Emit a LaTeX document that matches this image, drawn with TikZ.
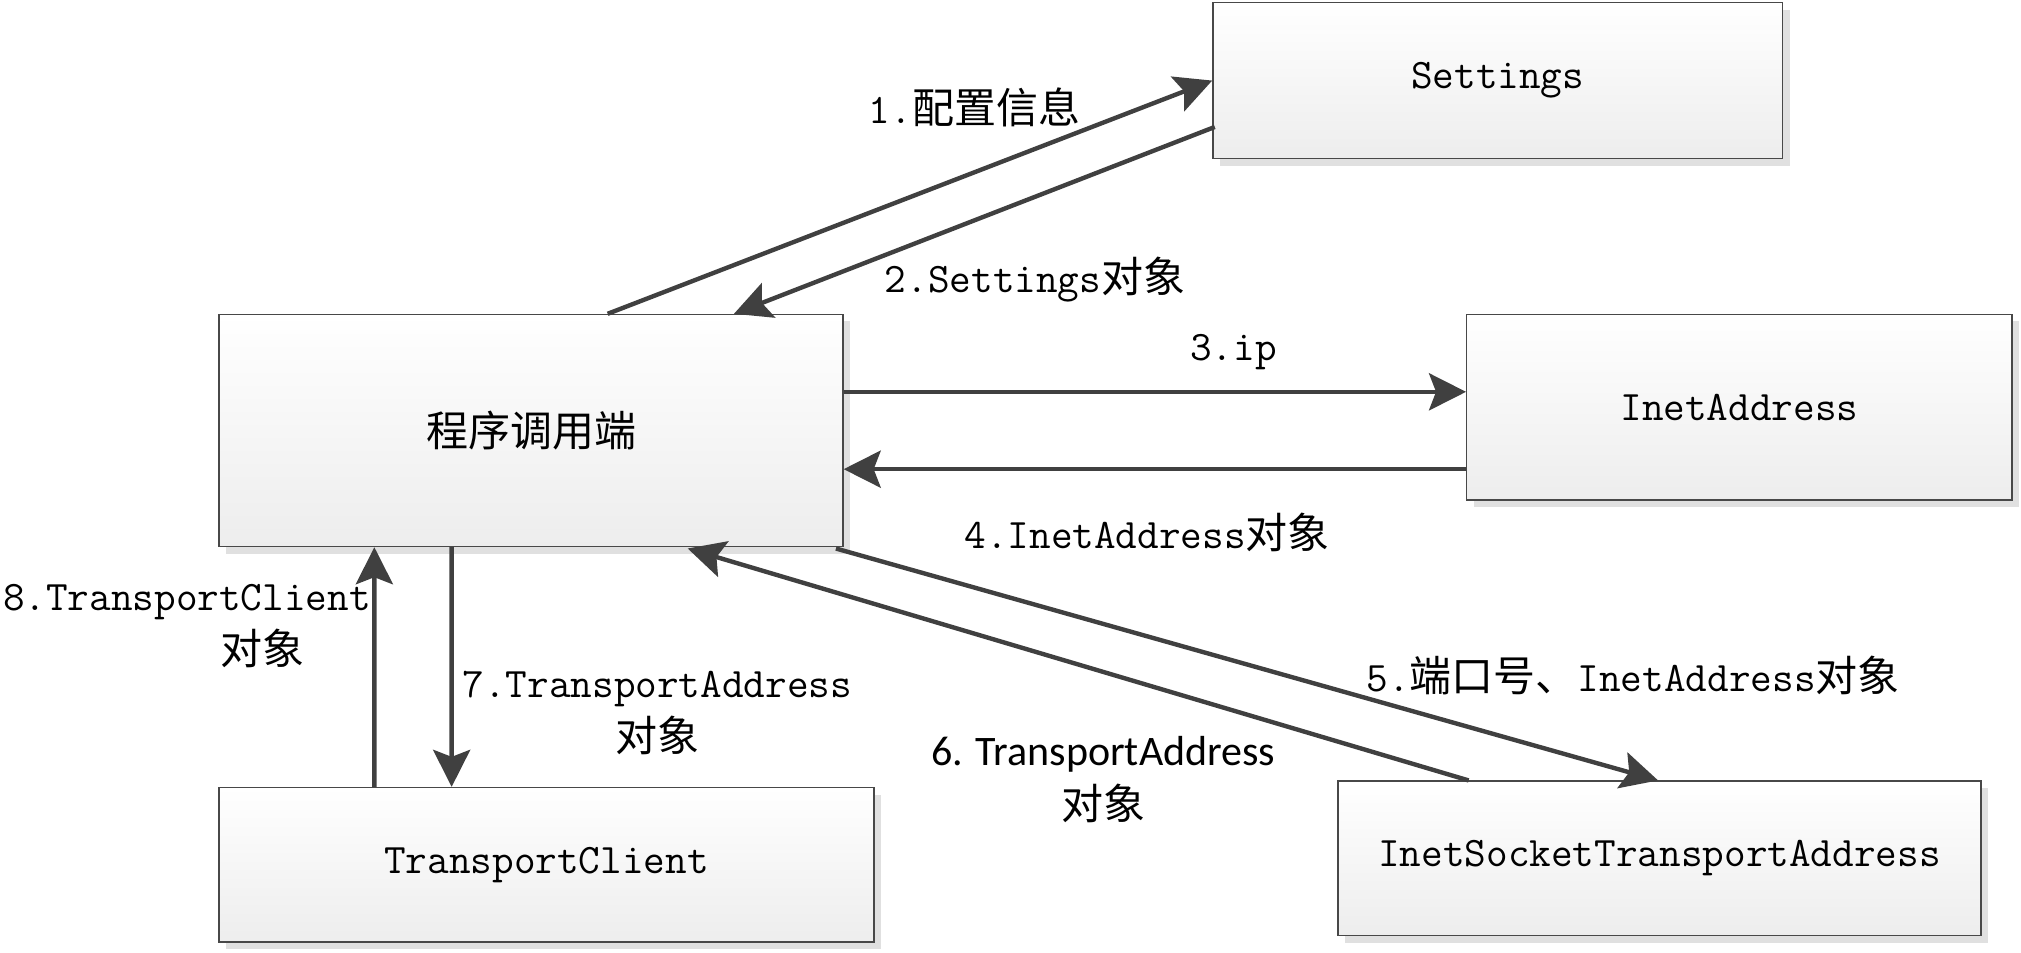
\documentclass[tikz,border=0pt]{standalone}
\usepackage{fontspec}
\usepackage{tikz}
\usetikzlibrary{positioning,arrows.meta,calc,shadows}
\newfontfamily\zhfont{Noto Sans CJK SC}
\newfontfamily\cbfont{Carlito}
\newcommand\zh[1]{{\zhfont #1}}
\definecolor{arrowgray}{RGB}{64,64,64}
\definecolor{boxline}{RGB}{72,72,72}

\begin{document}
\begin{tikzpicture}[x=0.6444pt, y=-0.6444pt, >={Stealth[length=18.5pt,width=18.5pt,inset=3.5pt]},
    bx/.style={draw=boxline,line width=0.7pt,top color=white,bottom color=black!7,inner sep=0pt,
               drop shadow={shadow xshift=3.5pt,shadow yshift=-3.5pt,fill=black!12,opacity=1},
               font=\ttfamily\fontsize{21}{26}\selectfont},
    lb/.style={align=center,inner sep=0pt,font=\ttfamily\fontsize{21}{27}\selectfont},
    ar/.style={->,draw=arrowgray,line width=2.2pt}]
    \useasboundingbox (0,0) rectangle (1568,739);
    % boxes
    \node[bx,minimum width=284.8pt,minimum height=78pt]   (settings) at (1162,62.5)  {Settings};
    \node[bx,minimum width=311.9pt,minimum height=116pt]  (caller)   at (412,334)    {\zh{程序调用端}};
    \node[bx,minimum width=272.6pt,minimum height=92.8pt] (inet)     at (1349.5,316) {InetAddress};
    \node[bx,minimum width=327.4pt,minimum height=77.3pt] (client)   at (424,671)    {TransportClient};
    \node[bx,minimum width=321.6pt,minimum height=77.3pt] (sock)     at (1287.5,666) {InetSocketTransportAddress};
    % connectors
    \draw[ar] ($(caller.north west)+(302,0)$) -- (settings.west);
    \draw[ar] ($(settings.west)+(2,36)$) -- ($(caller.north west)+(400,0)$);
    \draw[ar] ($(caller.east)+(0,-30)$) -- ($(inet.west)+(0,-12)$);
    \draw[ar] ($(inet.west)+(0,48)$) -- ($(caller.east)+(0,30)$);
    \draw[ar] ($(caller.south east)+(-6,1)$) -- ($(sock.north west)+(249,0)$);
    \draw[ar] ($(sock.north west)+(102,0)$) -- ($(caller.south east)+(-121,1)$);
    \draw[ar] ($(caller.south west)+(181,0)$) -- ($(client.north west)+(181,0)$);
    \draw[ar] ($(client.north west)+(121,0)$) -- ($(caller.south west)+(121,0)$);
    % labels
    \node[lb] (l1) at (756,83)  {1.\zh{配置信息}};
    \node[lb] (l2) at (803,217) {2.Settings\zh{对象}};
    \node[lb] (l3) at (957,273) {3.ip};
    \node[lb] (l4) at (890,413) {4.InetAddress\zh{对象}};
    \node[lb] (l5) at (1267,524) {5.\zh{端口号、}InetAddress\zh{对象}};
    \node[lb] (l6) at (856,605) {{\cbfont 6. TransportAddress}\\\zh{对象}};
    \node[lb] (l7) at (510,553) {7.TransportAddress\\\zh{对象}};
    \node[lb] (l8) at (145,486) {8.TransportClient\\\hspace*{76pt}\zh{对象}};
\end{tikzpicture}
\end{document}
